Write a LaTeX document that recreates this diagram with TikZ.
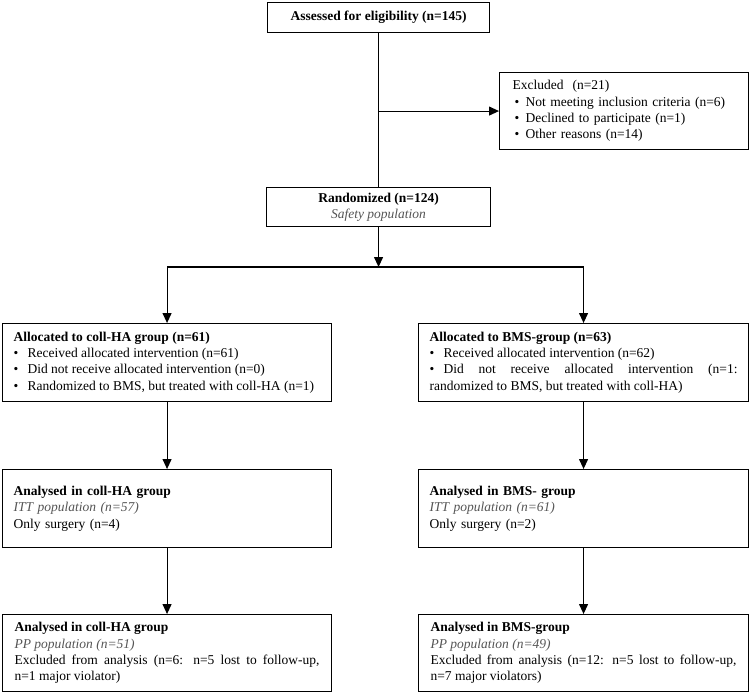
\documentclass[tikz,border=0pt]{standalone}
\usepackage{fontspec}
\setmainfont{Liberation Serif}
\usetikzlibrary{arrows.meta}
\definecolor{itgray}{RGB}{85,85,85}
\hyphenpenalty=10000
\exhyphenpenalty=10000
\newcommand{\fs}{\fontsize{13.5}{16.3}\selectfont}
\newcommand{\bul}[1]{\par\noindent\hangindent=14pt\hangafter=1\makebox[14pt][l]{\textbullet}#1}
\newcommand{\bulx}[1]{\par\noindent\hangindent=13pt\hangafter=1\hspace*{2pt}\makebox[11pt][l]{\textbullet}#1}
\newcommand{\itg}[1]{\textcolor{itgray}{\itshape #1}}
\tikzset{
  box/.style={draw=black, line width=1.1pt, anchor=north west, inner xsep=11pt, inner ysep=0pt, font=\fs},
  arr/.style={-{Triangle[length=10pt,width=9pt]}},
  conn/.style={line width=1.1pt, black},
}
\begin{document}
\begin{tikzpicture}[x=1pt,y=-1pt]
\useasboundingbox (0,0) rectangle (750,694);
\fill[white] (0,0) rectangle (750,694);

\node[box, align=center, minimum width=222pt, minimum height=30pt] (elig) at (267,2) {\textbf{Assessed for eligibility (n=145)}};

\node[box, inner xsep=13pt, text width=223pt, minimum width=249pt, minimum height=77pt, align=left] (exc) at (499,72)
 {Excluded~~(n=21)
  \bulx{Not meeting inclusion criteria (n=6)}
  \bulx{Declined to participate (n=1)}
  \bulx{Other reasons (n=14)}};

\node[box, align=center, minimum width=224pt, minimum height=39pt] (rand) at (266,187)
 {\textbf{Randomized (n=124)}\\\itg{Safety population}};

\node[box, text width=307pt, minimum width=329pt, minimum height=78pt, align=justify] (alA) at (2,323)
 {\textbf{Allocated to coll-HA group (n=61)}
  \bul{Received allocated intervention (n=61)}
  \bul{Did not receive allocated intervention (n=0)}
  \bul{Randomized to BMS, but treated with coll-HA (n=1)}};

\node[box, text width=308pt, minimum width=330pt, minimum height=78pt, align=justify] (alB) at (418,323)
 {\textbf{Allocated to BMS-group (n=63)}
  \bul{Received allocated intervention (n=62)}
  \bul{Did not receive allocated intervention (n=1:\linebreak randomized to BMS, but treated with coll-HA)}};

\node[box, text width=307pt, minimum width=329pt, minimum height=78pt, align=left] (ittA) at (2,469)
 {\textbf{Analysed in coll-HA group}\\\itg{ITT population (n=57)}\\Only surgery (n=4)};

\node[box, text width=308pt, minimum width=330pt, minimum height=78pt, align=left] (ittB) at (418,469)
 {\textbf{Analysed in BMS- group}\\\itg{ITT population (n=61)}\\Only surgery (n=2)};

\node[box, inner xsep=12pt, text width=305pt, minimum width=329pt, minimum height=77pt, align=justify] (ppA) at (2,614)
 {\textbf{Analysed in coll-HA group}\par\noindent\itg{PP population (n=51)}\par\noindent Excluded from analysis (n=6: n=5 lost to follow-up,\linebreak n=1 major violator)};

\node[box, inner xsep=12pt, text width=306pt, minimum width=330pt, minimum height=77pt, align=justify] (ppB) at (418,614)
 {\textbf{Analysed in BMS-group}\par\noindent\itg{PP population (n=49)}\par\noindent Excluded from analysis (n=12: n=5 lost to follow-up,\linebreak n=7 major violators)};

% connectors
\draw[conn] (elig.south) -- (rand.north);
\coordinate (ej) at (elig.south |- exc.west);
\draw[conn,arr] (ej) -- (exc.west);
\coordinate (sp) at (rand.south |- 0,267);
\draw[conn,arr] (rand.south) -- (sp);
\coordinate (spA) at (alA.north |- sp);
\coordinate (spB) at (alB.north |- sp);
\draw[conn] (spA) -- (spB);
\draw[conn,arr] (spA) -- (alA.north);
\draw[conn,arr] (spB) -- (alB.north);
\draw[conn,arr] (alA.south) -- (ittA.north);
\draw[conn,arr] (alB.south) -- (ittB.north);
\draw[conn,arr] (ittA.south) -- (ppA.north);
\draw[conn,arr] (ittB.south) -- (ppB.north);
\end{tikzpicture}
\end{document}
